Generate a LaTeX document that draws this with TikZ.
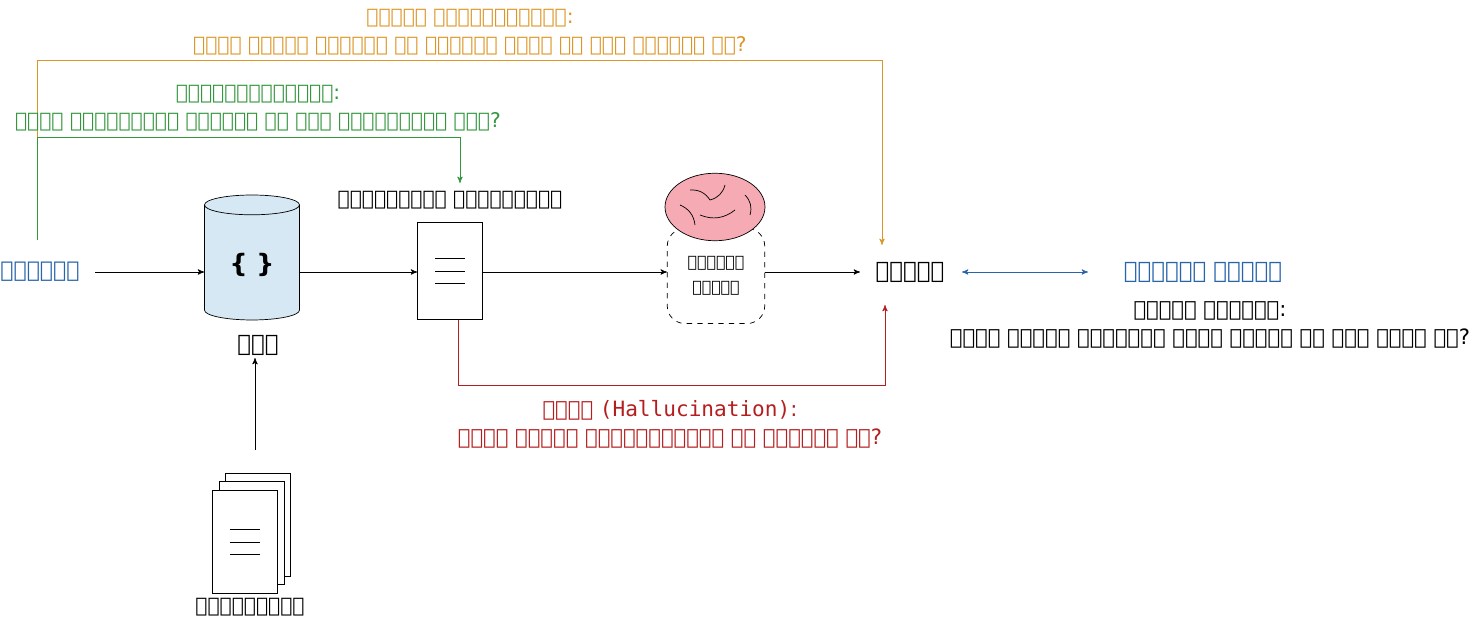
\documentclass[tikz,border=0pt]{standalone}
\usepackage{fontspec}
\setmainfont{DejaVu Sans}
\newfontfamily\mono{DejaVu Sans Mono}
\usetikzlibrary{shapes.geometric, arrows, positioning}

\definecolor{qblue}{RGB}{40,100,170}
\definecolor{rorange}{RGB}{220,150,40}
\definecolor{rgreen}{RGB}{50,150,60}
\definecolor{rred}{RGB}{180,30,30}
\definecolor{brainpink}{RGB}{245,170,180}
\definecolor{dbfill}{RGB}{215,232,245}

\tikzset{
  txt/.style={font=\fontsize{11.5}{16}\selectfont, align=center, inner sep=1pt},
  flow/.style={->, >=stealth', thin},
  doc/.style={draw, fill=white, minimum width=1.3cm, minimum height=1.95cm}
}

\begin{document}
\begin{tikzpicture}[x=0.02cm, y=-0.02cm]
  \useasboundingbox (0,0) rectangle (1478,624);

  % main row
  \node[txt, qblue, font=\fontsize{12.5}{16}\selectfont] (question) at (40,272) {प्रश्न};
  \node[cylinder, shape border rotate=90, draw, fill=dbfill, aspect=0.35,
        minimum width=1.9cm, minimum height=2.5cm] (search) at (252,265) {\Large\bfseries \{ \}};
  \node[txt, font=\fontsize{13}{16}\selectfont\bfseries] (searchlbl) at (258,345) {खोज};
  \node[doc] (reldoc) at (450,271) {};
  \foreach \y in {-0.25,0,0.25}
    \draw ([xshift=-0.3cm,yshift=\y cm]reldoc.center) -- ++(30,0);
  \node[txt] (reldoclbl) at (450,200) {प्रासंगिक दस्तावेज़};
  \node[draw, dashed, rounded corners=10pt, minimum width=1.95cm, minimum height=1.9cm,
        txt, font=\fontsize{9}{14}\selectfont] (ctx) at (716,276) {संदर्भ\\विंडो};
  % brain
  \node[ellipse, draw, fill=brainpink, minimum width=2cm, minimum height=1.35cm] (brain) at (715,207) {};
  \draw[thin] (690,190) to[bend left] (710,200) to[bend right] (725,185)
              (700,215) to[bend right] (735,210) (745,195) to[bend left] (750,215)
              (680,205) to[bend left] (695,225);
  \node[txt, font=\fontsize{13}{16}\selectfont\bfseries] (answer) at (910,272) {उत्तर};
  \node[txt, qblue, font=\fontsize{13}{16}\selectfont] (refans) at (1203,272) {संदर्भ उत्तर};
  \node[txt, font=\fontsize{12}{16}\selectfont] (acclbl) at (1210,325)
       {उत्तर सटीकता:\\क्या उत्तर आधारभूत सत्य उत्तर से मेल खाता है?};

  \draw[flow] (95,272) -- (search.west |- 0,272);
  \draw[flow] (search.east |- 0,272) -- (reldoc.west |- 0,272);
  \draw[flow] (reldoc.east |- 0,272) -- (ctx.west |- 0,272);
  \draw[flow] (ctx.east |- 0,272) -- (860,272);
  \draw[<->, >=stealth', qblue] (962,272) -- (1088,272);

  % documents
  \node[doc, minimum height=2.05cm] (d3) at (258,525) {};
  \node[doc, minimum height=2.05cm] (d2) at (252,533) {};
  \node[doc, minimum height=2.05cm] (docs) at (245,542) {};
  \foreach \y in {-0.25,0,0.25}
    \draw ([xshift=-0.3cm,yshift=\y cm]docs.center) -- ++(30,0);
  \node[txt] (docslbl) at (250,607) {दस्तावेज़};
  \draw[flow] (255,450) -- (255,358);

  % metrics
  \draw[rorange, ->, >=stealth'] (37,240) |- (882,60) -- (882,245);
  \node[txt, rorange] (rellbl) at (470,32) {उत्तर प्रासंगिकता:\\क्या उत्तर प्रश्न का समाधान करने के लिए उपयोगी है?};
  \draw[rgreen, ->, >=stealth'] (37,240) |- (460,137) -- (460,183);
  \node[txt, rgreen] (retlbl) at (258,108) {पुनर्प्राप्ति:\\क्या दस्तावेज़ प्रश्न के लिए प्रासंगिक हैं?};
  \draw[rred, ->, >=stealth'] (458,320) -- (458,385) -| (885,305);
  \node[txt, rred, font=\fontsize{12}{16}\selectfont] (hallbl) at (670,424)
       {भ्रम {\mono(Hallucination)}:\\क्या उत्तर दस्तावेज़ों पर आधारित है?};
\end{tikzpicture}
\end{document}
